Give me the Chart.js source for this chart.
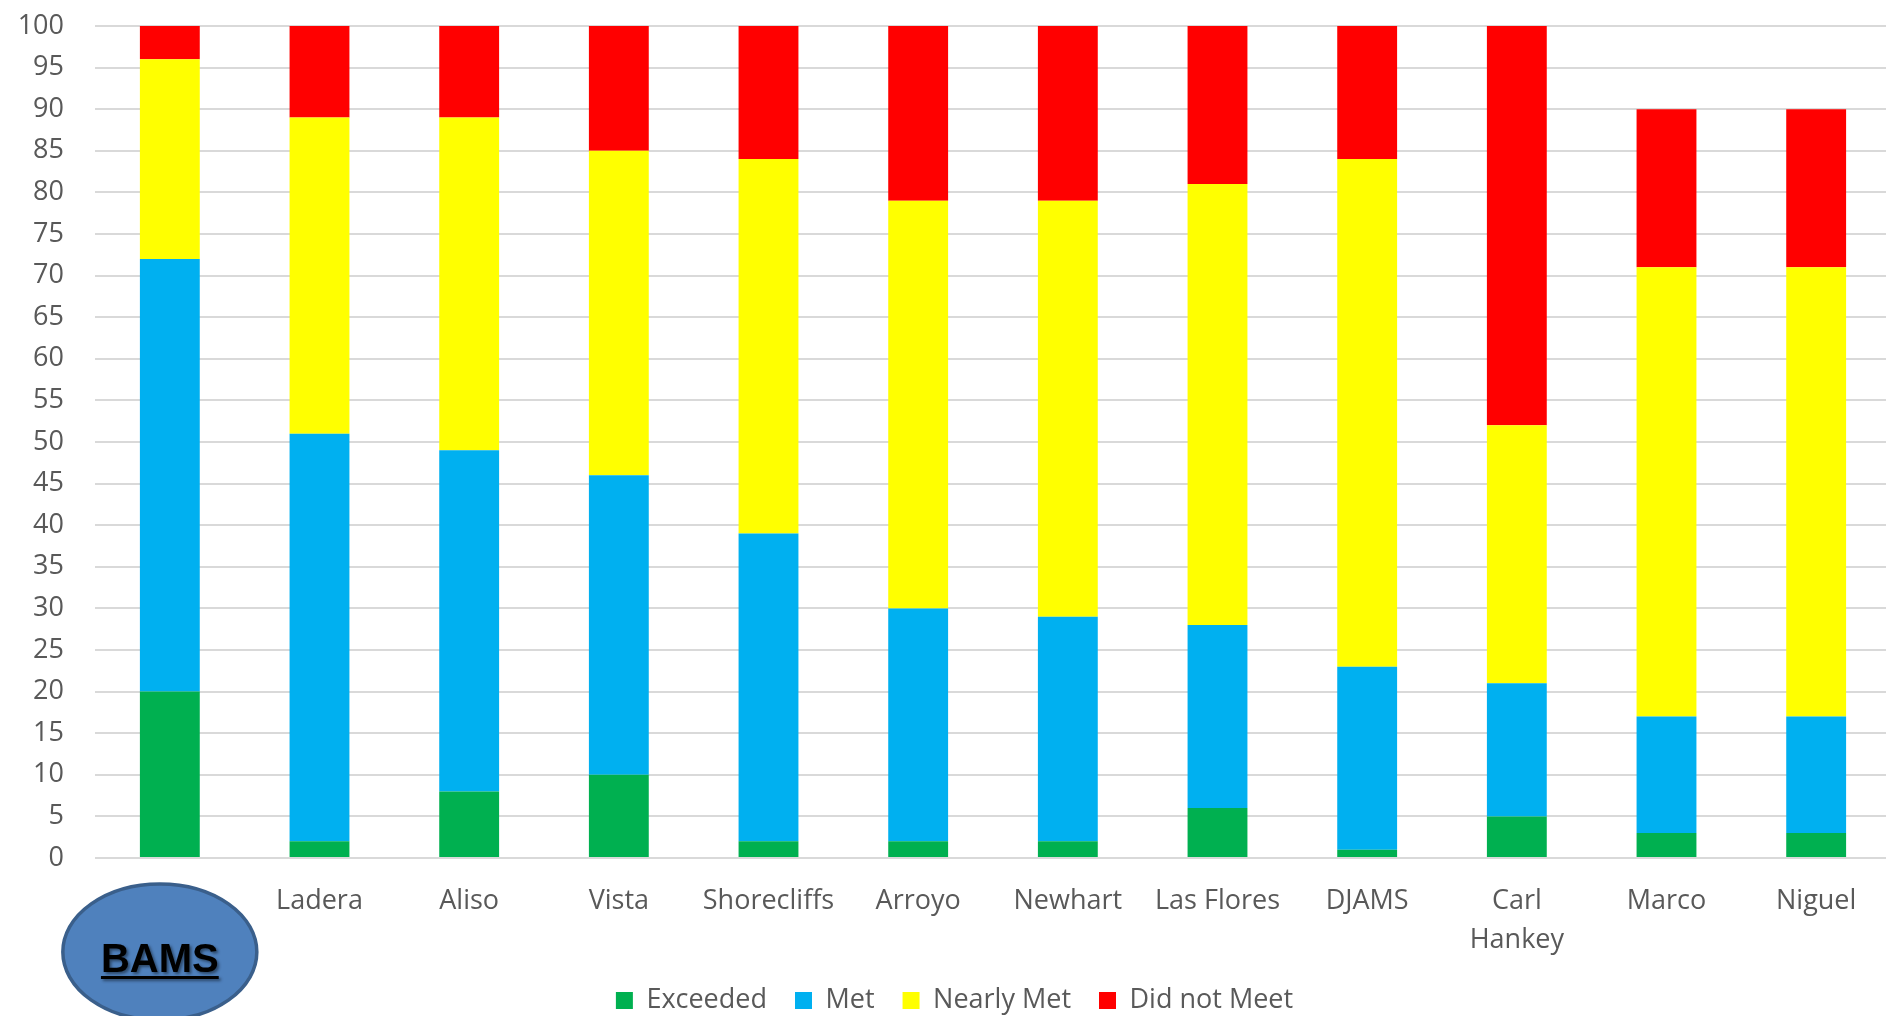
<!DOCTYPE html>
<html>
<head>
<meta charset="utf-8">
<title>BAMS</title>
<script src="https://cdn.jsdelivr.net/npm/chart.js@4/dist/chart.umd.min.js"></script>
<style>
    html, body { margin: 0; padding: 0; background: #fff; overflow: hidden; }
    #wrap { width: 1891px; height: 1016px; position: relative; }
</style>
</head>
<body>
<div id="wrap"><canvas id="grafico-escolas"></canvas></div>
<script>
var escolas = ['BAMS', 'Ladera', 'Aliso', 'Vista', 'Shorecliffs', 'Arroyo', 'Newhart',
               'Las Flores', 'DJAMS', ['Carl', 'Hankey'], 'Marco', 'Niguel'];

var exceeded   = [20,  2,  8, 10,  2,  2,  2,  6,  1,  5,  3,  3];
var met        = [52, 49, 41, 36, 37, 28, 27, 22, 22, 16, 14, 14];
var nearlyMet  = [24, 38, 40, 39, 45, 49, 50, 53, 61, 31, 54, 54];
var didNotMeet = [ 4, 11, 11, 15, 16, 21, 21, 19, 16, 48, 19, 19];

var yTicks = [0, 5, 10, 15, 20, 25, 30, 35, 40, 45, 50, 55, 60, 65, 70, 75, 80, 85, 90, 95, 100];

(function () {
    'use strict';

    var FONTE = '"Open Sans", Lato, sans-serif';
    var CINZA = '#595959';

    // oval "BAMS" por cima do primeiro rotulo
    var ovalBams = {
        id: 'ovalBams',
        afterDraw: function (chart) {
            var ctx = chart.ctx;
            var cx = chart.scales.x.getPixelForValue(0) - 10;
            var cy = 952;

            ctx.save();
            ctx.beginPath();
            ctx.ellipse(cx, cy, 97, 68, 0, 0, Math.PI * 2);
            ctx.fillStyle = '#4F81BD';
            ctx.fill();
            ctx.lineWidth = 3.5;
            ctx.strokeStyle = '#3A5F8B';
            ctx.stroke();

            ctx.font = 'bold 40px "Liberation Sans", Arial, sans-serif';
            ctx.textAlign = 'center';
            ctx.textBaseline = 'alphabetic';
            ctx.shadowColor = 'rgba(0,0,0,0.45)';
            ctx.shadowOffsetX = 2;
            ctx.shadowOffsetY = 2;
            ctx.shadowBlur = 3;
            ctx.fillStyle = '#000';
            ctx.fillText('BAMS', cx, 972);
            var w = ctx.measureText('BAMS').width;
            ctx.fillRect(cx - w / 2, 976, w, 3);
            ctx.restore();
        }
    };

    function dataset(label, data, cor) {
        return {
            label: label,
            data: data,
            backgroundColor: cor,
            borderWidth: 0,
            barPercentage: 0.4,
            categoryPercentage: 1
        };
    }

    function init() {
        if (typeof Chart === 'undefined') {
            console.warn('Chart.js nao carregado.');
            return;
        }
        var canvas = document.getElementById('grafico-escolas');

        new Chart(canvas, {
            type: 'bar',
            data: {
                labels: escolas,
                datasets: [
                    dataset('Exceeded', exceeded, '#00B050'),
                    dataset('Met', met, '#00B0F0'),
                    dataset('Nearly Met', nearlyMet, '#FFFF00'),
                    dataset('Did not Meet', didNotMeet, '#FF0000')
                ]
            },
            plugins: [ovalBams],
            options: {
                responsive: true,
                maintainAspectRatio: false,
                animation: false,
                layout: { padding: { top: 26, left: 18, right: 0, bottom: -8 } },
                plugins: {
                    legend: {
                        position: 'bottom',
                        labels: {
                            boxWidth: 17,
                            boxHeight: 17,
                            padding: 28,
                            color: CINZA,
                            font: { family: FONTE, size: 27 }
                        }
                    },
                    tooltip: { enabled: false }
                },
                scales: {
                    x: {
                        stacked: true,
                        grid: { display: false, drawTicks: false },
                        border: { display: false },
                        ticks: {
                            // o rotulo BAMS fica escondido atras do oval
                            color: function (c) { return c.index === 0 ? 'rgba(0,0,0,0)' : CINZA; },
                            padding: 24,
                            maxRotation: 0,
                            autoSkip: false,
                            font: { family: FONTE, size: 27, lineHeight: 1.45 }
                        },
                        afterFit: function (scale) { scale.height = 101; }
                    },
                    y: {
                        stacked: true,
                        min: 0,
                        max: 100,
                        grid: { color: '#D9D9D9', lineWidth: 2, drawTicks: false },
                        border: { display: false },
                        afterBuildTicks: function (scale) {
                            scale.ticks = yTicks.map(function (v) { return { value: v }; });
                        },
                        ticks: {
                            color: CINZA,
                            padding: 31,
                            font: { family: FONTE, size: 27 }
                        },
                        afterFit: function (scale) {
                            scale.width = 77;
                            scale.paddingTop = 0;
                            scale.paddingBottom = 0;
                        }
                    }
                }
            }
        });
    }

    if (document.readyState === 'loading') {
        document.addEventListener('DOMContentLoaded', init);
    } else {
        init();
    }
})();
</script>
</body>
</html>
